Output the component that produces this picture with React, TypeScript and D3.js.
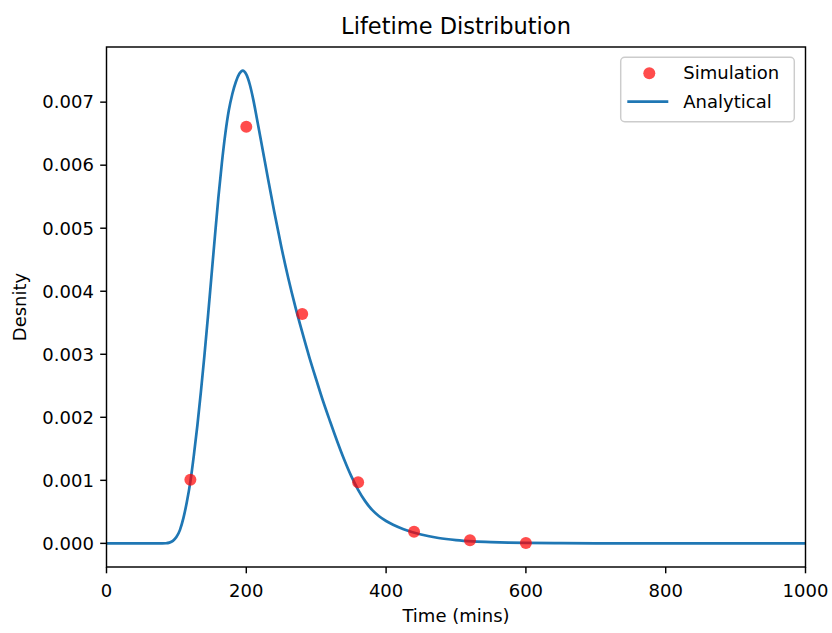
import React from "react";
import * as d3 from "d3";

const simTimes = [120, 200, 280, 360, 440, 520, 600];
const simDensity = [0.00101, 0.00661, 0.00364, 0.00097, 0.000185, 0.00005, 0.000005];

const curveTimes = [0, 50, 80, 85, 90, 95, 100, 105, 110, 115, 120, 125, 130, 135, 140, 145, 150, 155, 160, 165, 170, 175, 180, 185, 190, 195, 200, 205, 210, 215, 220, 225, 230, 240, 250, 260, 270, 280, 290, 300, 310, 320, 330, 340, 350, 360, 370, 380, 390, 400, 410, 425, 450, 475, 500, 525, 550, 575, 600, 650, 700, 750, 800, 900, 1000];
const curveDensityE3 = [0, 0, 0, 0.002, 0.012, 0.04, 0.10, 0.21, 0.40, 0.66, 0.98, 1.40, 1.87, 2.40, 2.97, 3.58, 4.22, 4.86, 5.48, 6.03, 6.50, 6.87, 7.13, 7.32, 7.45, 7.50, 7.44, 7.28, 7.04, 6.75, 6.45, 6.15, 5.85, 5.26, 4.71, 4.21, 3.76, 3.35, 2.96, 2.60, 2.25, 1.93, 1.62, 1.33, 1.07, 0.85, 0.67, 0.53, 0.43, 0.355, 0.295, 0.225, 0.14, 0.085, 0.052, 0.032, 0.02, 0.012, 0.007, 0.003, 0.001, 0.0003, 0, 0, 0];

const xTicks = [0, 200, 400, 600, 800, 1000];
const yTicks = [0, 0.001, 0.002, 0.003, 0.004, 0.005, 0.006, 0.007];

const W = 832, H = 633;
const L = 106.5, R = 805.5, T = 47, B = 567;
const FONT = "DejaVu Sans, sans-serif";
const BLUE = "#1f77b4";

export default function App() {
  const x = d3.scaleLinear().domain([0, 1000]).range([L, R]);
  const y = d3.scaleLinear().domain([-0.000375, 0.007875]).range([B, T]);
  const pts = curveTimes.map((t, i) => [t, curveDensityE3[i] / 1000] as [number, number]);
  const line = d3.line<[number, number]>().x(d => x(d[0])).y(d => y(d[1])).curve(d3.curveMonotoneX);
  const fmt = d3.format(".3f");
  const tickLen = 6.3;
  return (
    <svg width={W} height={H} style={{ position: "absolute", left: 0, top: 0, display: "block" }} fontFamily={FONT}>
      <rect x={0} y={0} width={W} height={H} fill="#fff" />
      <text x={(L + R) / 2} y={33.5} textAnchor="middle" fontSize={22.5} fill="#000">Lifetime Distribution</text>
      <defs>
        <clipPath id="plotclip"><rect x={L} y={T} width={R - L} height={B - T} /></clipPath>
      </defs>
      <g clipPath="url(#plotclip)">
        <path d={line(pts) || ""} fill="none" stroke={BLUE} strokeWidth={2.7} strokeLinejoin="round" strokeLinecap="square" />
        {simTimes.map((t, i) => (
          <circle key={i} cx={x(t)} cy={y(simDensity[i])} r={6} fill="red" fillOpacity={0.7} />
        ))}
      </g>
      <rect x={L} y={T} width={R - L} height={B - T} fill="none" stroke="#000" strokeWidth={1.45} />
      {xTicks.map(t => (
        <g key={t}>
          <line x1={x(t)} x2={x(t)} y1={B} y2={B + tickLen} stroke="#000" strokeWidth={1.45} />
          <text x={x(t)} y={597} textAnchor="middle" fontSize={18} fill="#000">{t}</text>
        </g>
      ))}
      {yTicks.map(t => (
        <g key={t}>
          <line x1={L - tickLen} x2={L} y1={y(t)} y2={y(t)} stroke="#000" strokeWidth={1.45} />
          <text x={L - 12.6} y={y(t)} dy="0.35em" textAnchor="end" fontSize={18} fill="#000">{fmt(t)}</text>
        </g>
      ))}
      <text x={(L + R) / 2} y={622} textAnchor="middle" fontSize={18} fill="#000">Time (mins)</text>
      <text transform={`translate(26,${(T + B) / 2}) rotate(-90)`} textAnchor="middle" fontSize={18} fill="#000">Desnity</text>
      <g>
        <rect x={620.7} y={57.3} width={173.6} height={64.4} rx={4} ry={4} fill="#fff" fillOpacity={0.8} stroke="#cccccc" strokeWidth={1.45} />
        <circle cx={649.3} cy={73.3} r={6} fill="red" fillOpacity={0.7} />
        <text x={683.3} y={79.3} fontSize={18} fill="#000">Simulation</text>
        <line x1={627.3} x2={668.3} y1={101.7} y2={101.7} stroke={BLUE} strokeWidth={2.7} />
        <text x={683.3} y={108.3} fontSize={18} fill="#000">Analytical</text>
      </g>
    </svg>
  );
}
